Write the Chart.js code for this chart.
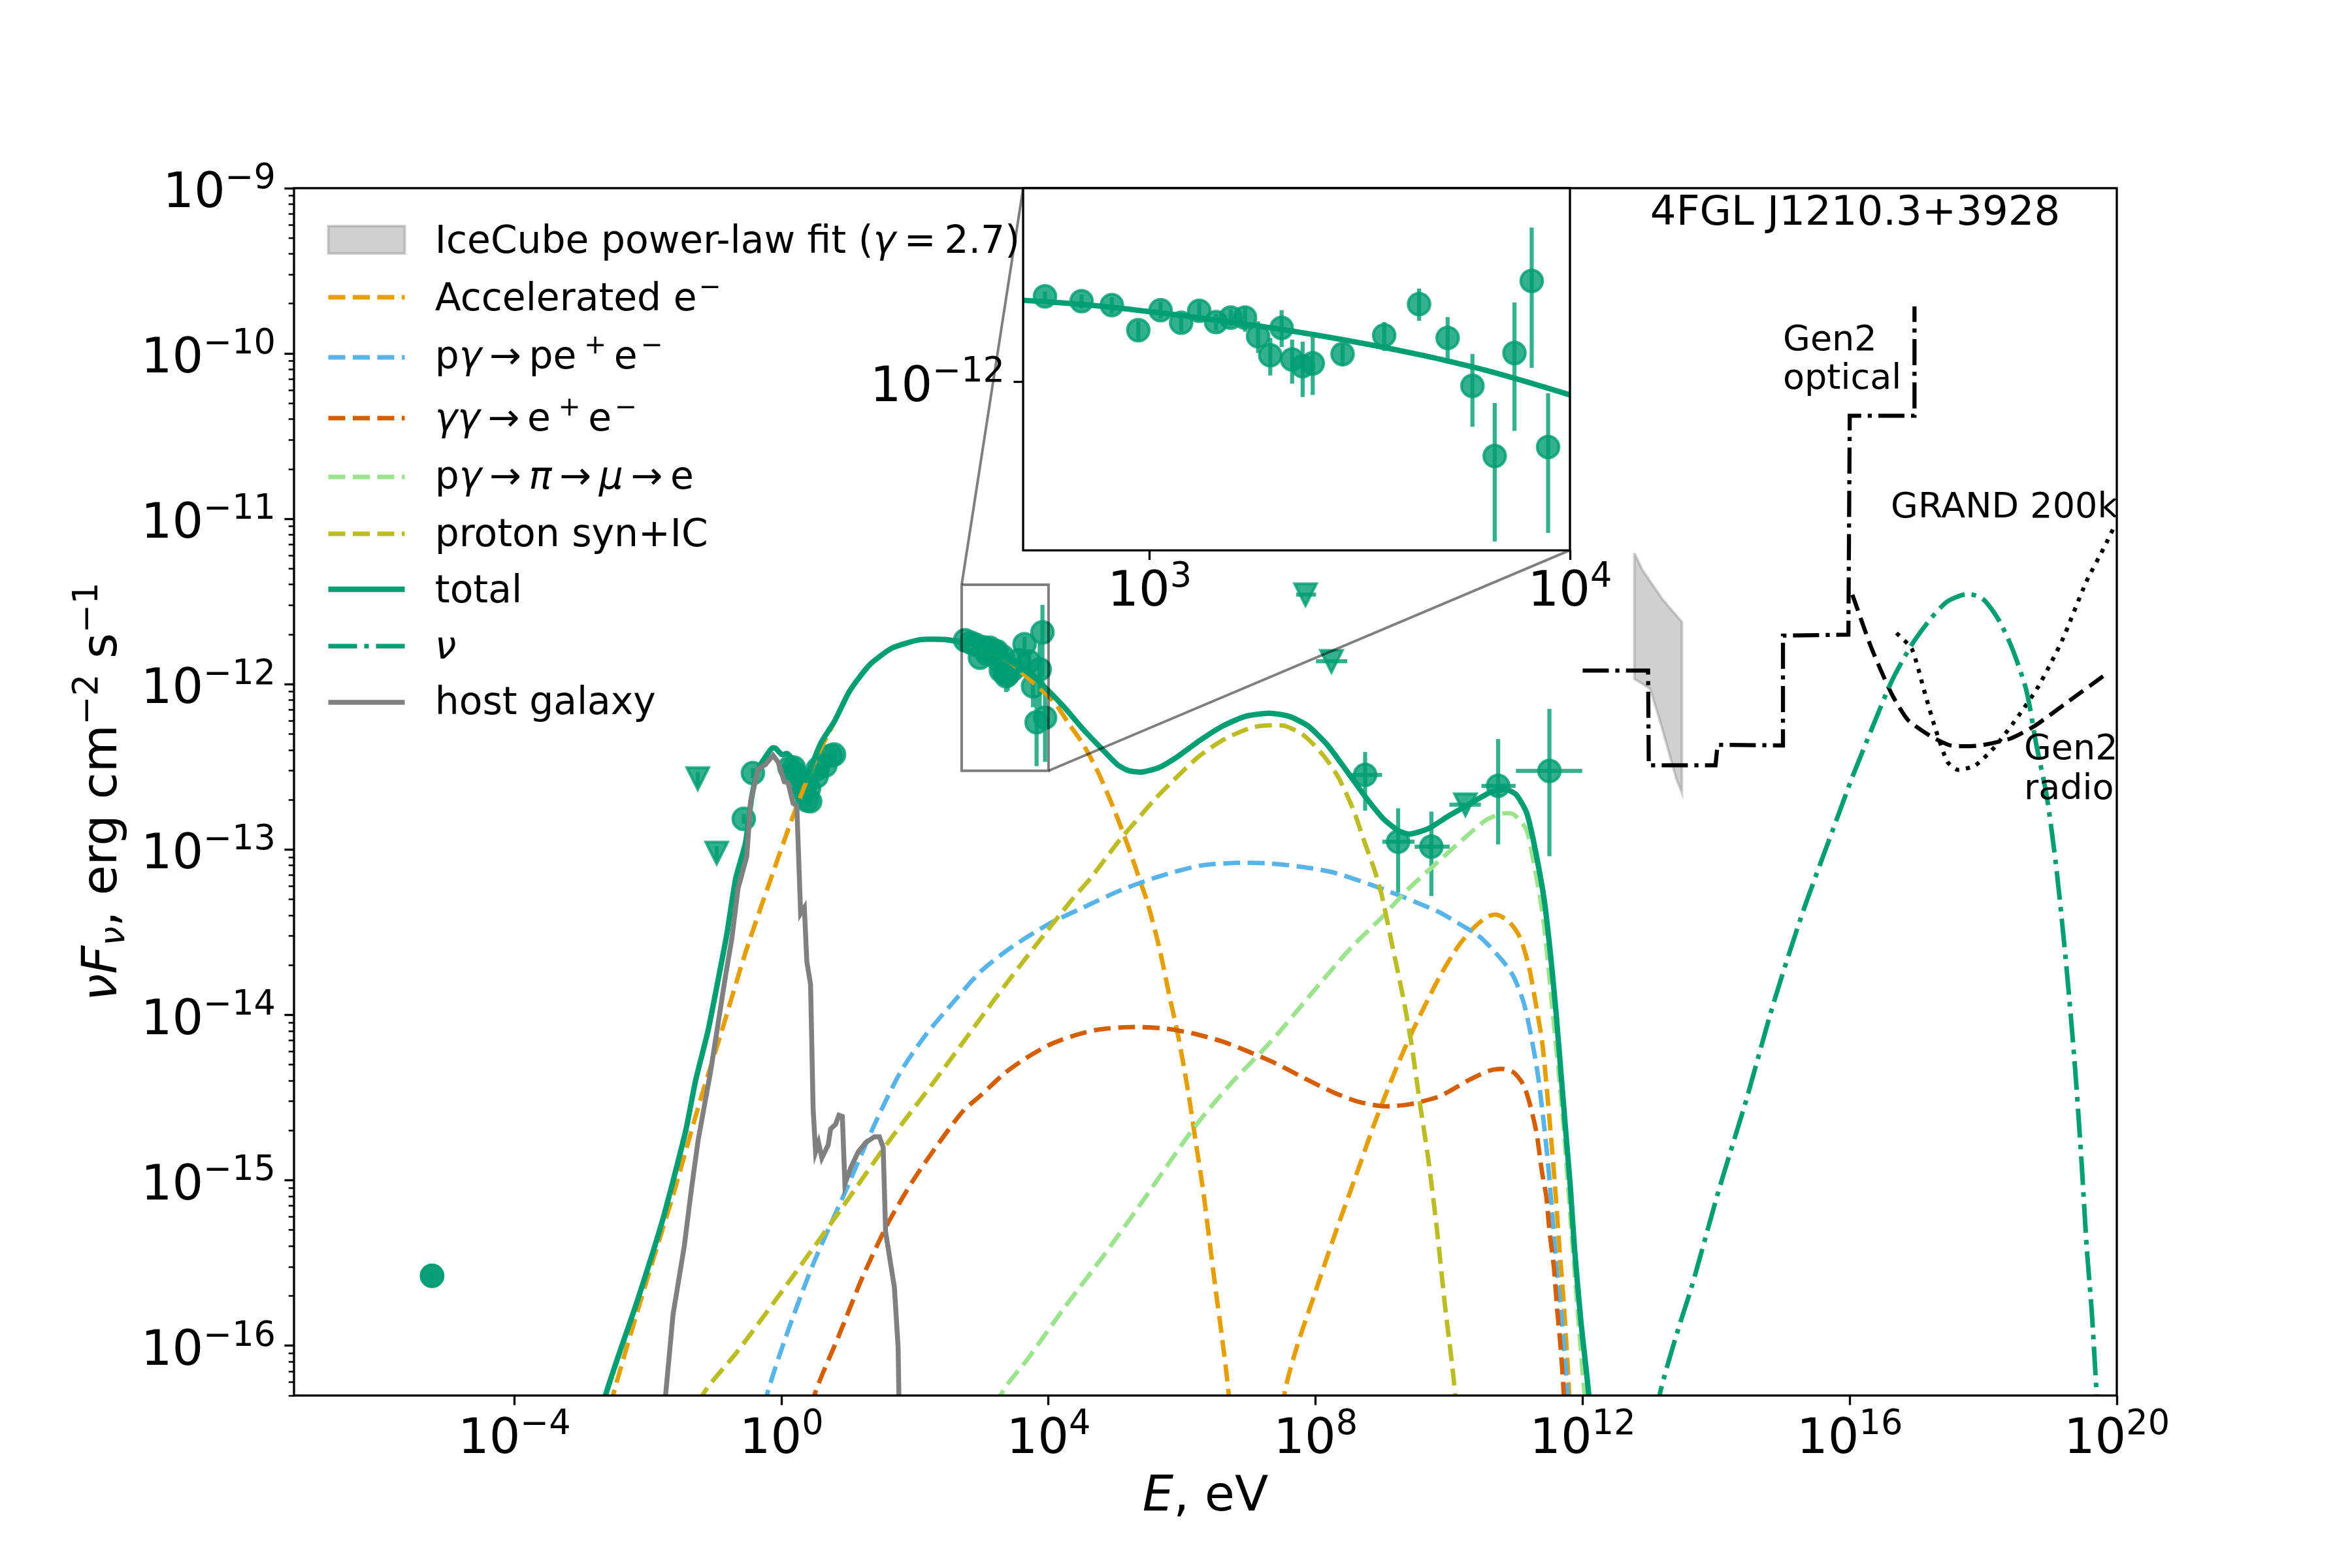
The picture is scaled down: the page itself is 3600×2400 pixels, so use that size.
<!DOCTYPE html>
<html>
<head>
<meta charset="utf-8">
<title>4FGL J1210.3+3928</title>
<script src="https://cdn.jsdelivr.net/npm/chart.js@4/dist/chart.umd.min.js"></script>
<style>
  html, body { margin: 0; background: #fff; }
  #wrap { position: relative; width: 3600px; height: 2400px; }
  canvas { position: absolute; left: 0; top: 0; }
</style>
</head>
<body>
<div id="wrap">
  <canvas id="sed" width="3600" height="2400"></canvas>
  <canvas id="zoomIn" width="3600" height="2400"></canvas>
</div>
<script>
// all values are log10(E / eV) and log10(nuFnu / erg cm-2 s-1)
const xTickExponents = [-4, 0, 4, 8, 12, 16, 20];
const yTickExponents = [-16, -15, -14, -13, -12, -11, -10, -9];

const icecubeLogE = [12.775, 12.893, 13.19, 13.486, 13.486, 13.4, 13.19, 13.01, 12.775, 12.775];
const icecubeLogF = [-11.207, -11.308, -11.484, -11.623, -12.656, -12.568, -12.265, -12.026, -11.968, -11.207];

const accelLogE = [-2.8, -2.522, -2.036, -1.624, -1.212, -0.912, -0.537, -0.163, 0.193, 0.495, 0.795, 1.019, 1.319, 1.656, 2.068, 2.442, 2.699, 3.061, 3.259, 3.457, 3.68, 4.074, 4.298, 4.523, 4.748, 4.973, 5.197, 5.366, 5.478, 5.658, 5.814, 5.939, 6.095, 6.22, 6.314, 6.407, 6.501, 6.595, 6.7, 6.8, 7.4, 7.531, 7.718, 7.968, 8.28, 8.592, 8.904, 9.216, 9.466, 9.857, 10.15, 10.378, 10.574, 10.721, 10.9, 11.063, 11.194, 11.292, 11.39, 11.455, 11.52, 11.585, 11.65, 11.716, 11.797, 11.83];
const accelLogF = [-16.8, -16.3, -15.63, -15.09, -14.51, -14.12, -13.62, -13.18, -12.776, -12.47, -12.225, -12.044, -11.885, -11.783, -11.733, -11.731, -11.748, -11.793, -11.83, -11.875, -11.958, -12.103, -12.235, -12.366, -12.537, -12.748, -12.985, -13.183, -13.315, -13.591, -13.891, -14.12, -14.473, -14.808, -15.055, -15.355, -15.655, -15.937, -16.3, -17, -17, -16.3, -16.008, -15.708, -15.337, -14.985, -14.632, -14.314, -14.085, -13.769, -13.576, -13.469, -13.405, -13.394, -13.437, -13.533, -13.705, -13.919, -14.154, -14.41, -14.71, -15.03, -15.396, -15.739, -16.296, -17];

const bheLogE = [-0.5, -0.219, 0.062, 0.474, 0.961, 1.41, 1.785, 2.159, 2.534, 2.974, 3.411, 4.0, 4.467, 5.085, 5.647, 6.265, 6.826, 7.332, 7.894, 8.311, 8.985, 9.824, 10.15, 10.476, 10.8, 10.966, 11.112, 11.21, 11.324, 11.422, 11.487, 11.553, 11.618, 11.683, 11.771, 11.8];
const bheLogF = [-16.8, -16.3, -15.95, -15.507, -15.064, -14.648, -14.343, -14.121, -13.941, -13.741, -13.6, -13.45, -13.36, -13.245, -13.163, -13.097, -13.08, -13.084, -13.11, -13.143, -13.235, -13.373, -13.448, -13.533, -13.672, -13.769, -13.919, -14.09, -14.347, -14.668, -14.925, -15.246, -15.568, -15.825, -16.296, -17];

const pairLogE = [0.2, 0.493, 0.848, 1.223, 1.597, 1.972, 2.347, 2.721, 2.974, 3.349, 3.661, 4.004, 4.347, 4.722, 5.221, 5.721, 6.158, 6.594, 6.969, 7.406, 7.843, 8.28, 8.654, 9.029, 9.404, 9.824, 9.987, 10.313, 10.607, 10.802, 10.966, 11.112, 11.21, 11.308, 11.39, 11.455, 11.504, 11.569, 11.618, 11.667, 11.716, 11.75];
const pairLogF = [-16.8, -16.3, -15.95, -15.577, -15.258, -15.0, -14.78, -14.58, -14.49, -14.35, -14.261, -14.182, -14.129, -14.09, -14.073, -14.081, -14.111, -14.159, -14.217, -14.293, -14.385, -14.47, -14.526, -14.552, -14.54, -14.497, -14.465, -14.39, -14.336, -14.326, -14.347, -14.422, -14.54, -14.711, -14.947, -15.096, -15.311, -15.525, -15.782, -15.996, -16.296, -17];

const muonLogE = [3.0, 3.286, 3.692, 4.222, 4.847, 5.471, 6.158, 6.719, 7.344, 7.968, 8.536, 8.985, 9.36, 9.77, 10.184, 10.558, 10.82, 10.97, 11.158, 11.259, 11.357, 11.438, 11.536, 11.7, 11.85, 12.03, 12.2];
const muonLogF = [-16.8, -16.3, -16.078, -15.778, -15.443, -15.09, -14.693, -14.42, -14.155, -13.856, -13.591, -13.413, -13.249, -13.097, -12.946, -12.82, -12.781, -12.788, -12.88, -13.062, -13.276, -13.512, -13.919, -14.6, -15.4, -16.3, -17];

const protonLogE = [-1.6, -1.137, -0.65, 0.099, 0.848, 1.597, 2.347, 2.946, 3.349, 3.785, 4.354, 4.635, 5.057, 5.31, 5.59, 5.815, 6.265, 6.658, 7.051, 7.332, 7.557, 7.838, 8.119, 8.343, 8.567, 8.737, 8.877, 8.99, 9.154, 9.31, 9.435, 9.559, 9.684, 9.809, 9.934, 10.09, 10.15];
const protonLogF = [-16.6, -16.27, -16.03, -15.62, -15.2, -14.77, -14.37, -14.04, -13.82, -13.591, -13.301, -13.17, -12.946, -12.827, -12.696, -12.603, -12.432, -12.327, -12.261, -12.248, -12.254, -12.314, -12.432, -12.564, -12.761, -12.959, -13.117, -13.275, -13.591, -13.891, -14.173, -14.526, -14.861, -15.267, -15.743, -16.3, -17];

const totalLogE = [-2.9, -2.635, -2.148, -1.773, -1.436, -1.287, -1.099, -0.949, -0.818, -0.687, -0.538, -0.444, -0.35, -0.2, -0.141, -0.092, 0.005, 0.087, 0.234, 0.36, 0.495, 0.593, 0.795, 1.019, 1.319, 1.656, 2.068, 2.442, 2.699, 2.863, 3.061, 3.259, 3.457, 3.656, 3.804, 4.0, 4.242, 4.523, 4.804, 5.029, 5.197, 5.394, 5.647, 5.928, 6.265, 6.602, 6.939, 7.304, 7.613, 7.894, 8.175, 8.455, 8.737, 9.017, 9.242, 9.41, 9.69, 9.973, 10.259, 10.633, 10.858, 11.008, 11.158, 11.27, 11.422, 11.52, 11.601, 11.683, 11.748, 11.814, 11.879, 11.977, 12.091, 12.2];
const totalLogF = [-16.8, -16.3, -15.715, -15.23, -14.703, -14.398, -14.093, -13.788, -13.511, -13.178, -12.957, -12.679, -12.513, -12.416, -12.386, -12.386, -12.425, -12.419, -12.485, -12.582, -12.445, -12.353, -12.223, -12.042, -11.883, -11.781, -11.731, -11.729, -11.746, -11.762, -11.791, -11.826, -11.868, -11.919, -11.965, -12.04, -12.142, -12.274, -12.393, -12.485, -12.522, -12.531, -12.505, -12.439, -12.34, -12.254, -12.195, -12.175, -12.195, -12.254, -12.366, -12.518, -12.676, -12.814, -12.886, -12.906, -12.873, -12.801, -12.735, -12.65, -12.636, -12.669, -12.774, -12.96, -13.298, -13.64, -13.983, -14.39, -14.711, -15.032, -15.418, -15.867, -16.296, -17];

const nuLogE = [13.0, 13.158, 13.408, 13.633, 14.032, 14.456, 14.856, 15.305, 15.804, 16.04, 16.33, 16.63, 16.93, 17.22, 17.46, 17.757, 17.994, 18.23, 18.44, 18.647, 18.795, 18.95, 19.1, 19.25, 19.374, 19.474, 19.549, 19.624, 19.699, 19.8];
const nuLogF = [-16.7, -16.29, -15.93, -15.643, -15.069, -14.506, -13.932, -13.369, -12.818, -12.56, -12.27, -11.98, -11.76, -11.6, -11.5, -11.454, -11.484, -11.61, -11.79, -12.04, -12.366, -12.675, -13.13, -13.728, -14.315, -14.901, -15.404, -15.787, -16.302, -17];

const hostLogE = [-1.85, -1.736, -1.624, -1.455, -1.361, -1.249, -1.062, -0.837, -0.744, -0.65, -0.519, -0.462, -0.35, -0.238, -0.126, -0.05, 0.043, 0.099, 0.174, 0.23, 0.287, 0.343, 0.38, 0.436, 0.474, 0.511, 0.556, 0.605, 0.699, 0.736, 0.811, 0.86, 0.912, 0.95, 1.036, 1.148, 1.26, 1.391, 1.466, 1.523, 1.56, 1.691, 1.747, 1.759, 1.77];
const hostLogF = [-16.8, -16.3, -15.812, -15.396, -15.091, -14.759, -14.343, -13.76, -13.539, -13.234, -13.04, -12.707, -12.513, -12.485, -12.43, -12.471, -12.59, -12.596, -12.72, -12.735, -13.386, -13.35, -13.677, -13.816, -14.565, -14.828, -14.772, -14.864, -14.786, -14.689, -14.661, -14.606, -14.614, -15.022, -14.925, -14.828, -14.772, -14.737, -14.737, -14.8, -15.313, -15.646, -16.006, -16.3, -17];

// Gen2 / GRAND sensitivity curves
const gen2OpticalLogE = [12.0, 12.98, 12.99, 13.99, 14.02, 15.0, 15.0, 15.98, 16.0, 16.97, 16.97];
const gen2OpticalLogF = [-11.917, -11.917, -12.49, -12.49, -12.366, -12.37, -11.706, -11.7, -10.376, -10.376, -9.715];
const gen2RadioLogE = [16.04, 16.33, 16.63, 16.87, 17.22, 17.52, 17.935, 18.41, 18.77, 19.24, 19.8];
const gen2RadioLogF = [-11.459, -11.786, -12.06, -12.215, -12.316, -12.371, -12.371, -12.328, -12.252, -12.114, -11.95];
const grandLogE = [16.7, 16.93, 17.13, 17.28, 17.46, 17.61, 17.875, 18.17, 18.53, 18.83, 19.18, 19.54, 19.83, 19.98];
const grandLogF = [-11.69, -11.786, -12.06, -12.265, -12.467, -12.517, -12.492, -12.38, -12.19, -12.01, -11.736, -11.383, -11.157, -11.03];

// measured points
const radioLogE = [-5.233, -5.233];
const radioLogF = [-15.577, -15.577];
const opticalLogE = [-0.565, -0.428, 0.12, 0.185, 0.201, 0.283, 0.331, 0.364, 0.38, 0.413, 0.43, 0.527, 0.544, 0.658, 0.739, 0.788];
const opticalLogF = [-12.814, -12.537, -12.504, -12.504, -12.537, -12.603, -12.643, -12.603, -12.702, -12.629, -12.708, -12.557, -12.511, -12.491, -12.432, -12.425];
const xrayLogE = [2.751, 2.838, 2.91, 2.973, 3.026, 3.075, 3.118, 3.158, 3.193, 3.227, 3.258, 3.287, 3.314, 3.339, 3.364, 3.388, 3.459, 3.558, 3.641, 3.709, 3.768, 3.821, 3.868, 3.909, 3.948];
const xrayLogF = [-11.734, -11.749, -11.761, -11.839, -11.777, -11.816, -11.779, -11.814, -11.8, -11.8, -11.858, -11.917, -11.832, -11.93, -11.951, -11.942, -11.913, -11.855, -11.758, -11.863, -12.012, -12.23, -11.91, -11.686, -12.202];
const xrayLogFHigh = [-11.719, -11.728, -11.737, -11.812, -11.751, -11.787, -11.751, -11.788, -11.774, -11.765, -11.812, -11.863, -11.777, -11.868, -11.875, -11.86, -11.88, -11.814, -11.71, -11.798, -11.913, -12.065, -11.753, -11.52, -12.035];
const xrayLogFLow = [-11.756, -11.772, -11.787, -11.868, -11.802, -11.844, -11.807, -11.84, -11.826, -11.844, -11.91, -11.98, -11.891, -12.005, -12.047, -12.04, -11.951, -11.903, -11.81, -11.933, -12.139, -12.495, -12.152, -11.956, -12.469];
const gammaLogE = [8.742, 9.236, 9.734, 10.734, 11.502];
const gammaLogF = [-12.548, -12.952, -12.982, -12.614, -12.524];
const gammaLogELow = [8.472, 9.0, 9.483, 10.484, 11.0];
const gammaLogEHigh = [8.997, 9.483, 10.008, 10.996, 11.993];
const gammaLogFHigh = [-12.41, -12.75, -12.77, -12.331, -12.149];
const gammaLogFLow = [-12.764, -13.26, -13.281, -12.969, -13.04];
const limitLogE = [-1.254, -0.97, 7.849, 8.237, 10.244];
const limitLogF = [-12.57, -13.02, -11.458, -11.861, -12.728];
const limitLogELow = [-1.254, -0.97, 7.708, 8.006, 10.004];
const limitLogEHigh = [-1.254, -0.97, 8.006, 8.473, 10.476];
const limitLogFHigh = [-12.53, -12.98, -11.458, -11.861, -12.728];
const limitLogFLow = [-12.61, -13.06, -11.458, -11.861, -12.728];

// zoom rectangle and the two connector lines
const boxLogE = [2.699, 4, 4, 2.699, 2.699];
const boxLogF = [-11.398, -11.398, -12.523, -12.523, -11.398];
const connectorTopLogE = [2.699, 3.62];
const connectorTopLogF = [-11.398, -9];
const connectorBottomLogE = [4, 11.81];
const connectorBottomLogF = [-12.523, -11.189];

const notes = ['4FGL J1210.3+3928', 'Gen2', 'optical', 'GRAND 200k', 'Gen2', 'radio'];
const noteLogE = [13.012, 15.0, 15.0, 16.615, 18.61, 18.61];
const noteLogF = [-9.221, -9.978, -10.213, -10.993, -12.453, -12.694];
const noteSize = [62.5, 54, 54, 54, 54, 54];

const GREEN = '#009E73';
const GREEN_A = 'rgba(0,158,115,0.8)';
const FONT = '"DejaVu Sans"';
const DASHED = [26, 11.5];
const DASHDOT = [44, 11, 7, 11];

const pts = (xs, ys) => xs.map((x, i) => ({x: 10 ** x, y: 10 ** ys[i]}));
const gap = {x: null, y: null};
const vBars = (xs, lo, hi) => xs.flatMap((x, i) => [{x: 10 ** x, y: 10 ** lo[i]}, {x: 10 ** x, y: 10 ** hi[i]}, gap]);
const hBars = (ys, lo, hi) => ys.flatMap((y, i) => [{x: 10 ** lo[i], y: 10 ** y}, {x: 10 ** hi[i], y: 10 ** y}, gap]);

function curve(label, xs, ys, color, width, dash, tension) {
  return {
    type: 'scatter', showLine: true, label, data: pts(xs, ys),
    borderColor: color, borderWidth: width, borderDash: dash || [], tension: tension === undefined ? 0.25 : tension,
    pointRadius: 0, fill: false, clip: 0
  };
}
function bars(data) {
  return {type: 'scatter', showLine: true, data, borderColor: GREEN_A, borderWidth: 6.25, pointRadius: 0, spanGaps: false, clip: 0};
}
function circles(xs, ys) {
  return {
    type: 'scatter', data: pts(xs, ys), pointStyle: 'circle', pointRadius: 16.7, pointBorderWidth: 4.2,
    pointBackgroundColor: GREEN_A, pointBorderColor: GREEN_A, showLine: false, clip: false
  };
}

// matplotlib 'v' marker, the built in triangle is not centred the same way
function triangleMarker() {
  const c = document.createElement('canvas');
  c.width = 60; c.height = 60;
  const g = c.getContext('2d');
  g.beginPath();
  g.moveTo(30 - 16.7, 30 - 16.7);
  g.lineTo(30 + 16.7, 30 - 16.7);
  g.lineTo(30, 30 + 16.7);
  g.closePath();
  g.fillStyle = GREEN_A;
  g.fill();
  g.strokeStyle = GREEN_A;
  g.lineWidth = 4.2;
  g.stroke();
  return c;
}

const sedDatasets = [
  bars(vBars(opticalLogE, opticalLogF.map(v => v - 0.03), opticalLogF.map(v => v + 0.03))),
  bars(vBars(radioLogE, radioLogF.map(v => v - 0.03), radioLogF.map(v => v + 0.03))),
  bars(vBars(xrayLogE, xrayLogFLow, xrayLogFHigh)),
  bars(vBars(gammaLogE, gammaLogFLow, gammaLogFHigh)),
  bars(hBars(gammaLogF, gammaLogELow, gammaLogEHigh)),
  bars(vBars(limitLogE, limitLogFLow, limitLogFHigh)),
  bars(hBars(limitLogF, limitLogELow, limitLogEHigh)),
  circles(radioLogE, radioLogF),
  circles(opticalLogE, opticalLogF),
  circles(xrayLogE, xrayLogF),
  circles(gammaLogE, gammaLogF),
  {type: 'scatter', data: pts(limitLogE, limitLogF), pointStyle: triangleMarker(), pointRadius: 20, showLine: false, clip: false},
  curve('Accelerated e⁻', accelLogE, accelLogF, '#E69F00', 6.8, DASHED),
  curve('pγ → pe⁺e⁻', bheLogE, bheLogF, '#56B4E9', 6.8, DASHED),
  curve('γγ → e⁺e⁻', pairLogE, pairLogF, '#D55E00', 6.8, DASHED),
  curve('pγ → π → μ → e', muonLogE, muonLogF, '#9BE38C', 6.8, DASHED),
  curve('proton syn+IC', protonLogE, protonLogF, '#BCBD22', 6.8, DASHED),
  curve('total', totalLogE, totalLogF, GREEN, 8.3, [], 0.2),
  curve('host galaxy', hostLogE, hostLogF, '#808080', 7.5, [], 0),
  Object.assign(curve('IceCube power-law fit (γ = 2.7)', icecubeLogE, icecubeLogF, 'rgba(128,128,128,0.37)', 4, [], 0), {fill: 'shape', backgroundColor: 'rgba(128,128,128,0.37)'}),
  curve('Gen2 optical', gen2OpticalLogE, gen2OpticalLogF, '#000', 6.25, [40, 10, 6.25, 10], 0),
  curve('Gen2 radio', gen2RadioLogE, gen2RadioLogF, '#000', 6.25, DASHED, 0.2),
  curve('GRAND 200k', grandLogE, grandLogF, '#000', 6.25, [6.25, 10.3], 0.2),
  curve('ν', nuLogE, nuLogF, GREEN, 7, DASHDOT),
  curve('zoom box', boxLogE, boxLogF, 'rgba(0,0,0,0.5)', 4, [], 0),
  curve('zoom link', connectorTopLogE, connectorTopLogF, 'rgba(0,0,0,0.5)', 4, [], 0),
  curve('zoom link', connectorBottomLogE, connectorBottomLogF, 'rgba(0,0,0,0.5)', 4, [], 0)
];
sedDatasets.forEach((d, i) => { d.order = sedDatasets.length - i; });
const byLabel = label => sedDatasets.find(d => d.label === label);

// parts: string = plain, [text, 'i'] italic, [text, '^'] sup, [text, '_'] sub, [text, 'i_'] both, number = gap in em
function drawMath(ctx, parts, x, y, size, align) {
  const items = parts.map(p => {
    if (typeof p === 'number') return {gap: p * size};
    const [text, style = ''] = Array.isArray(p) ? p : [p];
    const small = style.includes('^') || style.includes('_');
    const s = small ? size * 0.7 : size;
    const font = (style.includes('i') ? 'italic ' : '') + s + 'px ' + FONT;
    ctx.font = font;
    const dy = style.includes('^') ? -0.39 * size : style.includes('_') ? 0.16 * size : 0;
    return {text, font, dy, w: ctx.measureText(text).width};
  });
  const total = items.reduce((a, it) => a + (it.gap || it.w), 0);
  let cx = align === 'center' ? x - total / 2 : align === 'right' ? x - total : x;
  ctx.textAlign = 'left';
  ctx.textBaseline = 'alphabetic';
  ctx.fillStyle = '#000';
  for (const it of items) {
    if (it.gap) { cx += it.gap; continue; }
    ctx.font = it.font;
    ctx.fillText(it.text, cx, y + it.dy);
    cx += it.w;
  }
}

const tickLabel = e => ['10', [(e < 0 ? '−' : '') + Math.abs(e), '^']];

const ARROW = [0.2, '→', 0.2];
const legendRows = [
  {set: 'IceCube power-law fit (γ = 2.7)', y: 367, base: 387, parts: ['IceCube power-law fit (', ['γ', 'i'], 0.22, '=', 0.22, '2.7)']},
  {set: 'Accelerated e⁻', y: 455, base: 475, parts: ['Accelerated e', 0.05, ['−', '^']]},
  {set: 'pγ → pe⁺e⁻', y: 547, base: 564, parts: ['p', ['γ', 'i'], ...ARROW, 'pe', 0.2, ['+', '^'], 0.2, 'e', 0.08, ['−', '^']]},
  {set: 'γγ → e⁺e⁻', y: 640, base: 659, parts: [['γγ', 'i'], ...ARROW, 'e', 0.2, ['+', '^'], 0.2, 'e', 0.08, ['−', '^']]},
  {set: 'pγ → π → μ → e', y: 730, base: 748, parts: ['p', ['γ', 'i'], ...ARROW, ['π', 'i'], ...ARROW, ['μ', 'i'], ...ARROW, 'e']},
  {set: 'proton syn+IC', y: 817, base: 836, parts: ['proton syn+IC']},
  {set: 'total', y: 902, base: 922, parts: ['total']},
  {set: 'ν', y: 989, base: 1008, parts: [['ν', 'i']]},
  {set: 'host galaxy', y: 1075, base: 1093, parts: ['host galaxy']}
];

const framePlugin = {
  id: 'frame',
  afterDraw(chart) {
    const {ctx, chartArea: a} = chart;
    ctx.save();
    ctx.strokeStyle = '#000';
    ctx.lineWidth = 3.33;
    ctx.strokeRect(a.left, a.top, a.right - a.left, a.bottom - a.top);
    ctx.restore();
  }
};

const sedTextPlugin = {
  id: 'sedText',
  afterDraw(chart) {
    const {ctx, scales} = chart;
    ctx.save();
    for (const e of xTickExponents) drawMath(ctx, tickLabel(e), scales.x.getPixelForValue(10 ** e), 2224, 75, 'center');
    for (const e of yTickExponents) drawMath(ctx, tickLabel(e), 422, scales.y.getPixelForValue(10 ** e) + 29, 75, 'right');
    drawMath(ctx, [['E', 'i'], ', eV'], 1845, 2312, 75, 'center');
    ctx.save();
    ctx.translate(178, 1212);
    ctx.rotate(-Math.PI / 2);
    drawMath(ctx, [['νF', 'i'], ['ν', 'i_'], ', erg cm', ['−2', '^'], ' s', ['−1', '^']], 0, 0, 75, 'center');
    ctx.restore();

    notes.forEach((t, i) => {
      drawMath(ctx, [t], scales.x.getPixelForValue(10 ** noteLogE[i]), scales.y.getPixelForValue(10 ** noteLogF[i]), noteSize[i], 'left');
    });

    for (const row of legendRows) {
      const d = byLabel(row.set);
      ctx.save();
      if (d.fill === 'shape') {
        ctx.fillStyle = d.backgroundColor;
        ctx.strokeStyle = d.borderColor;
        ctx.lineWidth = 4;
        ctx.fillRect(502.5, row.y - 21, 117, 42);
        ctx.strokeRect(502.5, row.y - 21, 117, 42);
      } else {
        ctx.strokeStyle = d.borderColor;
        ctx.lineWidth = d.borderWidth;
        ctx.setLineDash(d.borderDash);
        ctx.beginPath();
        ctx.moveTo(502.5, row.y);
        ctx.lineTo(619.5, row.y);
        ctx.stroke();
      }
      ctx.restore();
      drawMath(ctx, row.parts, 665.8, row.base, 58.3, 'left');
    }
    ctx.restore();
  }
};

const majorAxisStyle = {
  grid: {display: true, drawOnChartArea: false, drawTicks: true, tickLength: 14.6, tickWidth: 3.33, tickColor: '#000'},
  border: {display: false},
  ticks: {display: false}
};

function minorValues(min, max) {
  const out = [];
  for (let e = Math.floor(Math.log10(min)); e < Math.log10(max); e++) {
    for (let m = 2; m <= 9; m++) {
      const v = m * 10 ** e;
      if (v >= min && v <= max) out.push(v);
    }
  }
  return out;
}

new Chart(document.getElementById('sed'), {
  data: {datasets: sedDatasets},
  plugins: [framePlugin, sedTextPlugin],
  options: {
    responsive: false,
    animation: false,
    devicePixelRatio: 1,
    events: [],
    layout: {padding: {top: 288, right: 360, left: 0, bottom: 0}},
    plugins: {legend: {display: false}, tooltip: {enabled: false}},
    scales: {
      x: {
        ...majorAxisStyle, type: 'logarithmic', position: 'bottom', min: 5e-8, max: 1e20, bounds: 'data',
        afterBuildTicks(s) { s.ticks = xTickExponents.map(e => ({value: 10 ** e})); },
        afterFit(s) { s.height = 264; }
      },
      y: {
        ...majorAxisStyle, type: 'logarithmic', position: 'left', weight: 1, min: 5e-17, max: 1e-9, bounds: 'data',
        afterBuildTicks(s) { s.ticks = yTickExponents.map(e => ({value: 10 ** e})); },
        afterFit(s) { s.width = 450; }
      },
      yMinor: {
        type: 'logarithmic', position: 'left', weight: 0, min: 5e-17, max: 1e-9, bounds: 'data',
        grid: {display: true, drawOnChartArea: false, drawTicks: true, tickLength: 8.3, tickWidth: 2.5, tickColor: '#000'},
        border: {display: false},
        ticks: {display: false},
        afterBuildTicks(s) { s.ticks = minorValues(5e-17, 1e-9).map(v => ({value: v})); },
        afterFit(s) { s.width = 0; }
      }
    }
  }
});

// inset: x-ray band
const insetXTicks = [3, 4];
const insetYTicks = [-12];
const insetDatasets = [
  bars(vBars(xrayLogE, xrayLogFLow, xrayLogFHigh)),
  circles(xrayLogE, xrayLogF),
  curve('total', totalLogE, totalLogF, GREEN, 8.3, [], 0.2)
];
insetDatasets.forEach((d, i) => { d.order = insetDatasets.length - i; });

const insetPaperPlugin = {
  id: 'insetPaper',
  beforeDraw(chart) {
    const {ctx, chartArea: a} = chart;
    ctx.save();
    ctx.fillStyle = '#fff';
    ctx.fillRect(a.left, a.top, a.right - a.left, a.bottom - a.top);
    ctx.restore();
  },
  afterDraw(chart) {
    const {ctx, scales, chartArea: a} = chart;
    ctx.save();
    for (const e of insetXTicks) drawMath(ctx, tickLabel(e), scales.x.getPixelForValue(10 ** e), a.bottom + 85, 75, 'center');
    for (const e of insetYTicks) drawMath(ctx, tickLabel(e), a.left - 28, scales.y.getPixelForValue(10 ** e) + 29, 75, 'right');
    ctx.restore();
  }
};

new Chart(document.getElementById('zoomIn'), {
  data: {datasets: insetDatasets},
  plugins: [insetPaperPlugin, framePlugin],
  options: {
    responsive: false,
    animation: false,
    devicePixelRatio: 1,
    events: [],
    layout: {padding: {top: 288, right: 1197, left: 0, bottom: 0}},
    plugins: {legend: {display: false}, tooltip: {enabled: false}},
    scales: {
      x: {
        ...majorAxisStyle, type: 'logarithmic', position: 'bottom', min: 500, max: 1e4, bounds: 'data',
        afterBuildTicks(s) { s.ticks = insetXTicks.map(e => ({value: 10 ** e})); },
        afterFit(s) { s.height = 1557.6; }
      },
      y: {
        ...majorAxisStyle, type: 'logarithmic', position: 'left', min: 3e-13, max: 4e-12, bounds: 'data',
        afterBuildTicks(s) { s.ticks = insetYTicks.map(e => ({value: 10 ** e})); },
        afterFit(s) { s.width = 1566; }
      }
    }
  }
});
</script>
</body>
</html>
